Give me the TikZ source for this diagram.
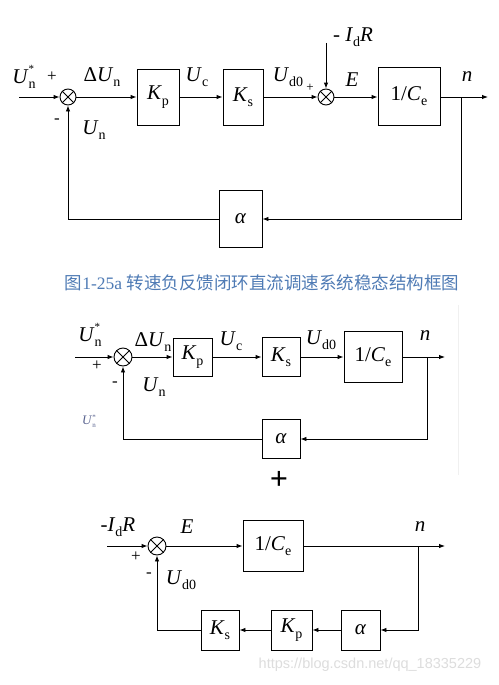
\documentclass[tikz,border=0pt]{standalone}
\usepackage{fontspec}
\setmainfont{Liberation Serif}
\newfontfamily\cjk{Noto Sans CJK SC}
\newfontfamily\wmfont{Liberation Sans}
\usetikzlibrary{arrows.meta}
\definecolor{capblue}{HTML}{4F7BB5}
\definecolor{wmgray}{HTML}{DDDDDD}
\definecolor{faint}{HTML}{5A6490}
\newcommand\bigf{\fontsize{21}{23}\selectfont}
\newcommand\sbs[1]{\raisebox{-0.25em}{\fontsize{14}{15}\selectfont #1}}
\newcommand\sps[1]{\raisebox{0.5em}{\fontsize{11}{12}\selectfont #1}}
\newcommand\Ustar{\textit{U}\rlap{\sps{*}}\sbs{n}}
\tikzset{
  blk/.style={draw, line width=0.9pt, inner sep=0pt, font=\bigf},
  sumc/.style={draw, circle, line width=0.9pt, minimum size=#1, inner sep=0pt},
  lbl/.style={inner sep=0pt, font=\bigf},
  sgn/.style={inner sep=0pt, font=\fontsize{17}{18}\selectfont},
  ln/.style={line width=0.9pt},
  arr/.style={line width=0.9pt, -{Latex[length=6pt,width=4.5pt]}}
}
\begin{document}
\begin{tikzpicture}[x=1pt,y=-1pt]
\useasboundingbox[fill=white] (0,0) rectangle (498,685);

% ===== top diagram =====
\coordinate (in1) at (19,97);
\node[sumc=16pt] (s1) at (68,97) {};
\draw[ln] (s1.45)--(s1.225) (s1.135)--(s1.-45);
\node[blk, minimum width=42pt, minimum height=56pt] (kp1) at (158,97) {\textit{K}\sbs{p}};
\node[blk, minimum width=40pt, minimum height=56pt] (ks1) at (243,97) {\textit{K}\sbs{s}};
\node[sumc=16pt] (s2) at (326,97) {};
\draw[ln] (s2.45)--(s2.225) (s2.135)--(s2.-45);
\coordinate (idr1) at (326,43);
\node[blk, minimum width=62pt, minimum height=58pt] (ce1) at (409,96) {1/\textit{C}\sbs{e}};
\coordinate (b1) at (461,97);
\coordinate (out1) at (488,97);
\node[blk, minimum width=43pt, minimum height=57pt] (al1) at (240.5,219) {\textit{α}};
\coordinate (c1) at (461,219);
\coordinate (c2) at (68,219);

\draw[arr] (in1) -- (s1.west);
\draw[arr] (s1.east) -- (kp1.west);
\draw[arr] (kp1.east) -- (ks1.west);
\draw[arr] (ks1.east) -- (s2.west);
\draw[arr] (idr1) -- (s2.north);
\draw[arr] (s2.east) -- (ce1.west |- s2.east);
\draw[arr] (ce1.east |- b1) -- (out1);
\draw[arr] (b1) -- (c1) -- (al1.east);
\draw[arr] (al1.west) -- (c2) -- (s1.south);

\node[lbl] (l1) at (24,77) {\Ustar};
\node[sgn] (p1) at (52,77) {+};
\node[lbl] (l2) at (102,77) {Δ\textit{U}\sbs{n}};
\node[lbl] (l3) at (197,77) {\textit{U}\sbs{c}};
\node[sgn] (m1) at (57,121) {-};
\node[lbl] (l4) at (94,130) {\textit{U}\sbs{n}};
\node[lbl] (l5) at (288,77) {\textit{U}\sbs{d0}};
\node[sgn, font=\fontsize{13}{13}\selectfont] (p2) at (310,88) {+};
\node[lbl] (l6) at (353,37) {-~\textit{I}\sbs{d}\textit{R}};
\node[lbl] (l7) at (352,80) {\textit{E}};
\node[lbl] (l8) at (467,77) {\textit{n}};

% caption
\node[inner sep=0pt, text=capblue, font=\fontsize{17.5}{19}\selectfont] (cap) at (262,283)
  {{\cjk 图}1-25a {\cjk 转速负反馈闭环直流调速系统稳态结构框图}};

% ===== middle diagram =====
\coordinate (in2) at (75,357);
\node[sumc=18pt] (s3) at (123,357) {};
\draw[ln] (s3.45)--(s3.225) (s3.135)--(s3.-45);
\node[blk, minimum width=39pt, minimum height=38pt] (kp2) at (192.5,357) {\textit{K}\sbs{p}};
\node[blk, minimum width=38pt, minimum height=39pt] (ks2) at (281,357) {\textit{K}\sbs{s}};
\node[blk, minimum width=58pt, minimum height=51pt] (ce2) at (373,357) {1/\textit{C}\sbs{e}};
\coordinate (b2) at (427,357);
\coordinate (out2) at (445,357);
\node[blk, minimum width=38pt, minimum height=39pt] (al2) at (281,439) {\textit{α}};
\coordinate (c3) at (427,439);
\coordinate (c4) at (123,439);

\draw[arr] (in2) -- (s3.west);
\draw[arr] (s3.east) -- (kp2.west);
\draw[arr] (kp2.east) -- (ks2.west);
\draw[arr] (ks2.east) -- (ce2.west);
\draw[arr] (ce2.east) -- (out2);
\draw[arr] (b2) -- (c3) -- (al2.east);
\draw[arr] (al2.west) -- (c4) -- (s3.south);

\node[lbl] (l9) at (90,335) {\Ustar};
\node[sgn] (p3) at (97,366) {+};
\node[sgn] (m2) at (115,384) {-};
\node[lbl] (l10) at (154,387) {\textit{U}\sbs{n}};
\node[lbl] (l11) at (153,342) {Δ\textit{U}\sbs{n}};
\node[lbl] (l12) at (231,341) {\textit{U}\sbs{c}};
\node[lbl] (l13) at (321,340) {\textit{U}\sbs{d0}};
\node[lbl] (l14) at (425,336) {\textit{n}};
\node[inner sep=0pt, text=faint, font=\fontsize{13}{14}\selectfont] (l15) at (89,421)
  {\textit{U}\rlap{\raisebox{0.4em}{\fontsize{7}{7}\selectfont *}}\raisebox{-0.2em}{\fontsize{7}{7}\selectfont n}};
\node[inner sep=0pt, font=\fontsize{32}{32}\selectfont\bfseries] (plus) at (279,480) {+};
\draw[line width=1pt, black!6] (458,305) -- (458,475);

% ===== bottom diagram =====
\coordinate (in3) at (107,546);
\node[sumc=18pt] (s4) at (157,546) {};
\draw[ln] (s4.45)--(s4.225) (s4.135)--(s4.-45);
\node[blk, minimum width=60pt, minimum height=51pt] (ce3) at (273,546) {1/\textit{C}\sbs{e}};
\coordinate (b3) at (418,546);
\coordinate (out3) at (445,546);
\node[blk, minimum width=39pt, minimum height=40pt] (al3) at (360.5,630) {\textit{α}};
\node[blk, minimum width=41pt, minimum height=40pt] (kp3) at (291.5,630) {\textit{K}\sbs{p}};
\node[blk, minimum width=38pt, minimum height=40pt] (ks3) at (220,630) {\textit{K}\sbs{s}};
\coordinate (c5) at (418,630);
\coordinate (c6) at (157,630);

\draw[arr] (in3) -- (s4.west);
\draw[arr] (s4.east) -- (ce3.west);
\draw[arr] (ce3.east) -- (out3);
\draw[arr] (b3) -- (c5) -- (al3.east);
\draw[arr] (al3.west) -- (kp3.east);
\draw[arr] (kp3.west) -- (ks3.east);
\draw[arr] (ks3.west) -- (c6) -- (s4.south);

\node[lbl] (l16) at (118,527) {-\textit{I}\sbs{d}\textit{R}};
\node[sgn] (p4) at (136,557) {+};
\node[sgn] (m3) at (149,575) {-};
\node[lbl] (l17) at (181,580) {\textit{U}\sbs{d0}};
\node[lbl] (l18) at (187,527) {\textit{E}};
\node[lbl] (l19) at (420,527) {\textit{n}};

% watermark
\node[inner sep=0pt, text=wmgray, font=\wmfont\fontsize{14.5}{16}\selectfont] (wm) at (370,665) {https://blog.csdn.net/qq\_18335229};
\end{tikzpicture}
\end{document}
